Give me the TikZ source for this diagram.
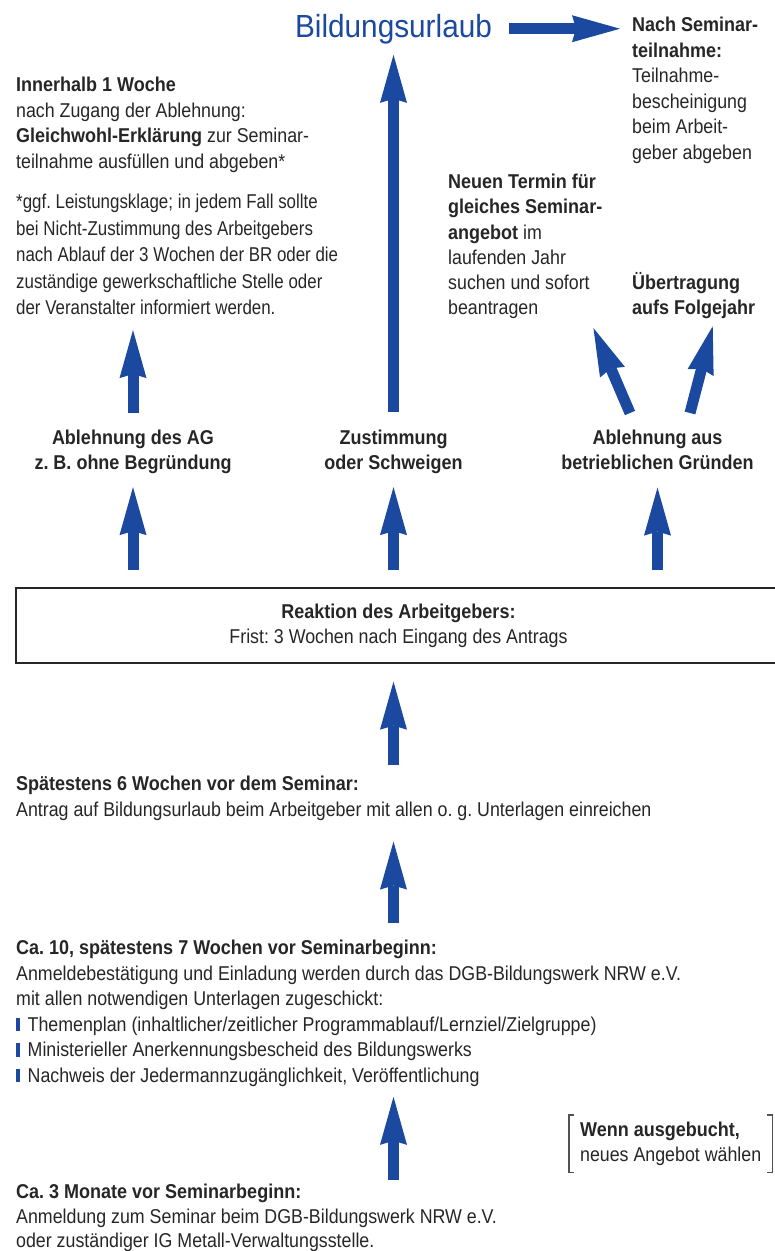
\documentclass[tikz,border=0pt]{standalone}
\usepackage{fontspec}
\setmainfont{Liberation Sans}[UprightFeatures={FakeStretch=0.89},BoldFeatures={FakeStretch=0.9}]
\newfontfamily\titelfont{Liberation Sans}[FakeStretch=0.93]
\newfontfamily\fussfont{Liberation Sans}[FakeStretch=0.845]
\usetikzlibrary{arrows.meta}
\pgfdeclarelayer{edgelayer}
\pgfdeclarelayer{nodelayer}
\pgfsetlayers{edgelayer,nodelayer,main}
\definecolor{dgbblau}{RGB}{27,73,160}
\definecolor{textgrau}{RGB}{38,38,38}
\newcommand{\strich}{{\color{dgbblau}\rule{3.5pt}{13.5pt}}\hspace{8pt}}
\tikzstyle{titel}=[anchor=base,inner sep=0pt,text=dgbblau,font=\titelfont\fontsize{32}{38}\selectfont]
\tikzstyle{absatz}=[anchor=north west,inner sep=0pt,align=left,text=textgrau,font=\fontsize{20}{25.5}\selectfont]
\tikzstyle{fall}=[anchor=north,inner sep=0pt,align=center,text=textgrau,font=\bfseries\fontsize{20}{25.5}\selectfont]
\tikzstyle{rahmen}=[draw=textgrau,line width=1.3pt,minimum width=765pt,minimum height=75pt,inner sep=0pt,align=center,text=textgrau,font=\fontsize{20}{25}\selectfont]
\tikzstyle{klammer}=[anchor=north west,inner sep=0pt,minimum width=203pt,minimum height=57pt,align=left,text=textgrau,font=\fontsize{20}{25}\selectfont]
\tikzstyle{eckig}=[draw=textgrau!80,line width=1.2pt]
\tikzstyle{pfeil}=[draw=dgbblau,line width=11pt,-{Stealth[length=48pt,width=27pt,inset=4pt,line width=0pt]}]

\begin{document}
\frenchspacing
\begin{tikzpicture}[x=1pt, y=-1pt]
	\useasboundingbox (0, 0) rectangle (775, 1251);
	\begin{pgfonlayer}{nodelayer}
		\node [style=titel] (0) at (393.5, 37) {Bildungsurlaub};
		\node [style=absatz] (1) at (632, 17) {\textbf{Nach Seminar-}\\\textbf{teilnahme:}\\Teilnahme-\\bescheinigung\\beim Arbeit-\\geber abgeben};
		\node [style=absatz] (2) at (16, 77) {\textbf{Innerhalb 1 Woche}\\nach Zugang der Ablehnung:\\\textbf{Gleichwohl-Erklärung} zur Seminar-\\teilnahme ausfüllen und abgeben*};
		\node [style=absatz, font=\fussfont\fontsize{20}{26.5}\selectfont] (3) at (16, 194) {*ggf. Leistungsklage; in jedem Fall sollte\\bei Nicht-Zustimmung des Arbeitgebers\\nach Ablauf der 3 Wochen der BR oder die\\zuständige gewerkschaftliche Stelle oder\\der Veranstalter informiert werden.};
		\node [style=absatz, font=\fontsize{20}{25.2}\selectfont] (4) at (448, 174) {\textbf{Neuen Termin für}\\\textbf{gleiches Seminar-}\\\textbf{angebot} im\\laufenden Jahr\\suchen und sofort\\beantragen};
		\node [style=absatz, font=\bfseries\fontsize{20}{25.5}\selectfont] (5) at (632, 272) {Übertragung\\aufs Folgejahr};
		\node [style=fall] (7) at (133, 429.5) {Ablehnung des AG\\z. B. ohne Begründung};
		\node [style=fall] (8) at (393.5, 429.5) {Zustimmung\\oder Schweigen};
		\node [style=fall] (9) at (657.5, 429.5) {Ablehnung aus\\betrieblichen Gründen};
		\node [style=rahmen] (10) at (398.5, 625.5) {\textbf{Reaktion des Arbeitgebers:}\\Frist: 3 Wochen nach Eingang des Antrags};
		\node [style=absatz] (11) at (16, 776) {\textbf{Spätestens 6 Wochen vor dem Seminar:}\\Antrag auf Bildungsurlaub beim Arbeitgeber mit allen o. g. Unterlagen einreichen};
		\node [style=absatz] (12) at (16, 940) {\textbf{Ca. 10, spätestens 7 Wochen vor Seminarbeginn:}\\Anmeldebestätigung und Einladung werden durch das DGB-Bildungswerk NRW e.V.\\mit allen notwendigen Unterlagen zugeschickt:\\\strich Themenplan (inhaltlicher/zeitlicher Programmablauf/Lernziel/Zielgruppe)\\\strich Ministerieller Anerkennungsbescheid des Bildungswerks\\\strich Nachweis der Jedermannzugänglichkeit, Veröffentlichung};
		\node [style=klammer] (13) at (569, 1115) {\textbf{Wenn ausgebucht,}\\neues Angebot wählen};
		\node [style=absatz, font=\fontsize{20}{24.5}\selectfont] (14) at (16, 1184) {\textbf{Ca. 3 Monate vor Seminarbeginn:}\\Anmeldung zum Seminar beim DGB-Bildungswerk NRW e.V.\\oder zuständiger IG Metall-Verwaltungsstelle.};
	\end{pgfonlayer}
	\begin{pgfonlayer}{edgelayer}
		\draw [style=pfeil, shorten <=17.5pt, shorten >=11pt] (8.north) to (8.north |- 0.south);
		\draw [style=pfeil, shorten <=17pt, shorten >=12pt] (0.east) to (0.east -| 1.west);
		\draw [style=pfeil, shorten <=16.5pt, shorten >=15pt] (7.north) to (7.north |- 3.south);
		\draw [style=pfeil] ([xshift=-27.5pt, yshift=16.5pt]9.north) to ([xshift=-9pt, yshift=-9pt]4.south east);
		\draw [style=pfeil] ([xshift=32.5pt, yshift=16.5pt]9.north) to ([xshift=19pt, yshift=-7pt]5.south);
		\draw [style=pfeil, shorten <=17pt, shorten >=13pt] (10.north -| 7.south) to (7.south);
		\draw [style=pfeil, shorten <=17pt, shorten >=13pt] (10.north -| 8.south) to (8.south);
		\draw [style=pfeil, shorten <=17pt, shorten >=17.5pt] (10.north -| 9.south) to (9.south);
		\draw [style=pfeil, shorten <=11pt, shorten >=18pt] (11.north -| 0.south) to (10.south -| 0.south);
		\draw [style=pfeil, shorten <=17pt, shorten >=21pt] (12.north -| 0.south) to (11.south -| 0.south);
		\draw [style=pfeil, shorten <=4pt, shorten >=10.3pt] (14.north -| 0.south) to (12.south -| 0.south);
		\draw [style=eckig] ([xshift=5pt]13.north west) -- (13.north west) -- (13.south west) -- ([xshift=5pt]13.south west);
		\draw [style=eckig] ([xshift=-5pt]13.north east) -- (13.north east) -- (13.south east) -- ([xshift=-5pt]13.south east);
	\end{pgfonlayer}
\end{tikzpicture}
\end{document}
